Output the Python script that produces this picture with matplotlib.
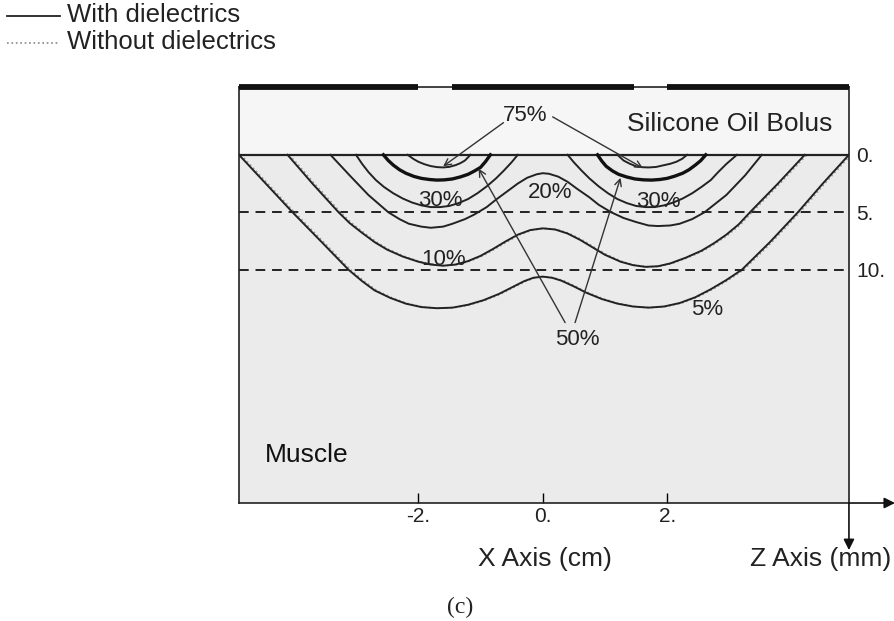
import numpy as np
import matplotlib.pyplot as plt
from matplotlib.lines import Line2D
import matplotlib.transforms as mtransforms

plt.rcParams['font.family'] = ['Liberation Sans', 'DejaVu Sans']

# contour lines, x in cm, z in mm (depth, positive downwards)
x_5 = [-4.88, -4.45, -4.02, -3.55, -3.12, -2.9, -2.7, -2.45, -2.2, -1.95, -1.7, -1.45,
       -1.2, -0.95, -0.7, -0.5, -0.3, -0.15, 0.0, 0.15, 0.3, 0.5, 0.7, 0.95, 1.2,
       1.45, 1.7, 1.95, 2.2, 2.45, 2.7, 2.95, 3.2, 3.65, 4.1, 4.5, 4.92]
z_5 = [0.0, 2.5, 5.0, 7.6, 10.0, 11.0, 11.8, 12.45, 12.95, 13.25, 13.35, 13.3,
       13.05, 12.65, 12.1, 11.55, 11.0, 10.7, 10.6, 10.7, 10.95, 11.45, 12.0, 12.55, 12.95,
       13.2, 13.3, 13.2, 12.9, 12.4, 11.7, 10.9, 10.0, 7.6, 5.0, 2.5, 0.0]

x_10 = [-4.1, -3.7, -3.28, -3.1, -2.9, -2.7, -2.5, -2.25, -2.0, -1.8, -1.6, -1.4,
        -1.2, -1.0, -0.8, -0.6, -0.4, -0.2, 0.0, 0.2, 0.4, 0.6, 0.8, 1.0, 1.25,
        1.45, 1.65, 1.85, 2.05, 2.3, 2.55, 2.75, 2.95, 3.15, 3.33, 3.78, 4.21]
z_10 = [0.0, 2.5, 5.0, 5.95, 6.8, 7.6, 8.25, 8.85, 9.3, 9.55, 9.65, 9.55,
        9.25, 8.8, 8.2, 7.55, 6.95, 6.55, 6.4, 6.5, 6.85, 7.4, 8.05, 8.7, 9.3,
        9.6, 9.75, 9.7, 9.45, 8.95, 8.35, 7.7, 6.95, 6.05, 5.0, 2.5, 0.0]

x_20 = [-3.41, -3.1, -2.8, -2.48, -2.3, -2.15, -1.95, -1.8, -1.6, -1.45, -1.25, -1.1,
        -0.9, -0.75, -0.55, -0.4, -0.25, -0.1, 0.0, 0.1, 0.25, 0.4, 0.55, 0.75, 0.9,
        1.1, 1.3, 1.5, 1.7, 1.85, 2.05, 2.2, 2.4, 2.6, 2.95, 3.25, 3.52]
z_20 = [0.0, 1.8, 3.5, 5.0, 5.6, 6.0, 6.25, 6.35, 6.25, 6.0, 5.6, 5.2,
        4.55, 3.9, 3.1, 2.5, 2.0, 1.7, 1.6, 1.65, 1.9, 2.35, 2.95, 3.7, 4.35,
        5.0, 5.5, 5.85, 6.15, 6.2, 6.15, 6.0, 5.6, 5.0, 3.5, 1.8, 0.0]

x_30_left = [-3.0, -2.9, -2.8, -2.68, -2.55, -2.4, -2.25, -2.1, -1.95, -1.8, -1.65,
             -1.5, -1.35, -1.2, -1.05, -0.9, -0.75, -0.62, -0.5, -0.4]
z_30_left = [0.0, 0.8, 1.5, 2.2, 2.8, 3.35, 3.8, 4.15, 4.4, 4.55, 4.55,
             4.45, 4.2, 3.85, 3.35, 2.75, 2.05, 1.35, 0.65, 0.0]
x_30_right = [0.4, 0.5, 0.62, 0.75, 0.9, 1.05, 1.2, 1.35, 1.5, 1.65, 1.8,
              1.95, 2.1, 2.25, 2.4, 2.55, 2.7, 2.82, 2.95, 3.12]
z_30_right = [0.0, 0.65, 1.35, 2.05, 2.75, 3.35, 3.85, 4.2, 4.45, 4.55, 4.55,
              4.4, 4.15, 3.8, 3.35, 2.8, 2.2, 1.5, 0.8, 0.0]

x_50_left = [-2.56, -2.48, -2.4, -2.3, -2.2, -2.07, -1.95, -1.82, -1.7, -1.58, -1.45,
             -1.32, -1.2, -1.1, -1.0, -0.92, -0.84]
z_50_left = [0.0, 0.5, 0.9, 1.3, 1.6, 1.88, 2.05, 2.15, 2.2, 2.18, 2.1,
             1.92, 1.7, 1.42, 1.1, 0.6, 0.0]
x_50_right = [0.88, 0.95, 1.02, 1.12, 1.22, 1.35, 1.48, 1.62, 1.75, 1.88, 2.0,
              2.12, 2.25, 2.35, 2.45, 2.54, 2.62]
z_50_right = [0.0, 0.55, 1.0, 1.4, 1.7, 1.93, 2.1, 2.18, 2.2, 2.15, 2.05,
              1.86, 1.6, 1.3, 0.9, 0.5, 0.0]

x_75_left = [-2.17, -2.08, -2.0, -1.9, -1.8, -1.7, -1.6, -1.5, -1.4, -1.32, -1.25, -1.16]
z_75_left = [0.0, 0.35, 0.6, 0.82, 0.98, 1.07, 1.1, 1.05, 0.9, 0.72, 0.5, 0.0]
x_75_right = [1.2, 1.26, 1.3, 1.4, 1.5, 1.6, 1.7, 1.82, 1.95, 2.05, 2.15, 2.24, 2.32]
z_75_right = [0.0, 0.3, 0.5, 0.78, 1.0, 1.08, 1.1, 1.06, 0.9, 0.78, 0.6, 0.35, 0.0]

# applicator plates on top of the bolus (cm)
plates = [(-4.88, -2.0), (-1.45, 1.47), (2.0, 4.92)]

x_min, x_max = -4.88, 4.92
z_top, z_bottom = -5.9, 30.3
z_ticks = [0, 5, 10]
z_ticklabels = ['0.', '5.', '10.']
x_ticks = [-2, 0, 2]
x_ticklabels = ['-2.', '0.', '2.']

fig = plt.figure(figsize=(8.94, 6.21), dpi=100)
ax = fig.add_axes([0.2673, 0.19, 0.6823, 0.6699])
ax.set_xlim(x_min, x_max)
ax.set_ylim(z_bottom, z_top)

# background regions
ax.axhspan(0, z_bottom, color='#ebebeb', zorder=0)
ax.axhspan(z_top, 0, color='#f6f6f6', zorder=0)
ax.axhline(0, color='#222222', lw=1.6, zorder=3)
for zd in [5, 10]:
    ax.axhline(zd, color='#222222', lw=1.4, dashes=(5, 3.5), zorder=2)

for p0, p1 in plates:
    ax.plot([p0, p1], [z_top, z_top], color='#111111', lw=4.2,
            solid_capstyle='butt', clip_on=False, zorder=5)

lc = '#222222'
shift = mtransforms.offset_copy(ax.transData, fig=fig, x=2, y=0, units='dots')
for xs, zs in [(x_5, z_5), (x_10, z_10)]:
    ax.plot(xs, zs, color='#999999', lw=1.2, ls=':', transform=shift, zorder=2)
for xs, zs in [(x_5, z_5), (x_10, z_10), (x_20, z_20),
               (x_30_left, z_30_left), (x_30_right, z_30_right),
               (x_75_left, z_75_left), (x_75_right, z_75_right)]:
    ax.plot(xs, zs, color=lc, lw=1.4, zorder=3, solid_joinstyle='round')
for xs, zs in [(x_50_left, z_50_left), (x_50_right, z_50_right)]:
    ax.plot(xs, zs, color='#111111', lw=2.4, zorder=3, solid_joinstyle='round')

# labels
fs = 16
ax.text(-0.28, -3.43, '75%', fontsize=fs, ha='center', va='center', color='#222222')
ax.text(0.56, 16.1, '50%', fontsize=fs, ha='center', va='center', color='#222222')
ax.text(-1.64, 3.96, '30%', fontsize=fs, ha='center', va='center', color='#222222')
ax.text(1.86, 4.04, '30%', fontsize=fs, ha='center', va='center', color='#222222')
ax.text(0.12, 3.26, '20%', fontsize=fs, ha='center', va='center', color='#222222')
ax.text(-1.59, 9.09, '10%', fontsize=fs, ha='center', va='center', color='#222222')
ax.text(2.64, 13.5, '5%', fontsize=fs, ha='center', va='center', color='#222222')
ax.text(4.66, -2.65, 'Silicone Oil Bolus', fontsize=19, ha='right', va='center', color='#222222')
ax.text(-4.46, 26.1, 'Muscle', fontsize=19, ha='left', va='center', color='#111111')

arr = dict(arrowstyle='->', color='#333333', lw=1.0, shrinkA=0, shrinkB=0,
           mutation_scale=12)
ax.annotate('', xy=(-1.6, 1.0), xytext=(-0.63, -2.8), arrowprops=arr)
ax.annotate('', xy=(1.61, 1.15), xytext=(0.16, -3.3), arrowprops=arr)
ax.annotate('', xy=(-1.03, 1.2), xytext=(0.36, 14.6), arrowprops=arr)
ax.annotate('', xy=(1.25, 2.0), xytext=(0.52, 14.6), arrowprops=arr)

# axes cosmetics
for s in ax.spines.values():
    s.set_color('#222222')
    s.set_linewidth(1.2)
ax.set_xticks(x_ticks)
ax.set_xticklabels(x_ticklabels, fontsize=15, color='#222222')
ax.tick_params(axis='x', direction='in', length=7, width=1.0, pad=3)
ax.yaxis.tick_right()
ax.set_yticks(z_ticks)
ax.set_yticklabels(z_ticklabels, fontsize=15, color='#222222')
ax.tick_params(axis='y', length=0, pad=5)

# axis arrows
head = dict(arrowstyle='-|>', color='#111111', lw=1.2, shrinkA=0, shrinkB=0,
            mutation_scale=16)
ax.annotate('', xy=(5.66, z_bottom), xytext=(x_max, z_bottom),
            arrowprops=head, annotation_clip=False)
ax.annotate('', xy=(x_max, 34.4), xytext=(x_max, z_bottom),
            arrowprops=head, annotation_clip=False)

fig.text(545 / 894, 1 - 559 / 621, 'X Axis (cm)', fontsize=19, ha='center', va='center', color='#222222')
fig.text(821 / 894, 1 - 559 / 621, 'Z Axis (mm)', fontsize=19, ha='center', va='center', color='#222222')
fig.text(460 / 894, 1 - 607 / 621, '(c)', fontsize=17, ha='center', va='center',
         family=['Liberation Serif', 'DejaVu Serif'], color='#222222')

# legend drawn in figure pixels
fig.add_artist(Line2D([7 / 894, 60 / 894], [1 - 16 / 621, 1 - 16 / 621],
                      color='#222222', lw=1.3, transform=fig.transFigure))
fig.add_artist(Line2D([7 / 894, 60 / 894], [1 - 43 / 621, 1 - 43 / 621],
                      color='#888888', lw=1.2, ls=':', transform=fig.transFigure))
fig.text(67 / 894, 1 - 15 / 621, 'With dielectrics', fontsize=18.5, ha='left', va='center', color='#222222')
fig.text(67 / 894, 1 - 42 / 621, 'Without dielectrics', fontsize=18.5, ha='left', va='center', color='#222222')

fig.savefig('out.png', dpi=100)
